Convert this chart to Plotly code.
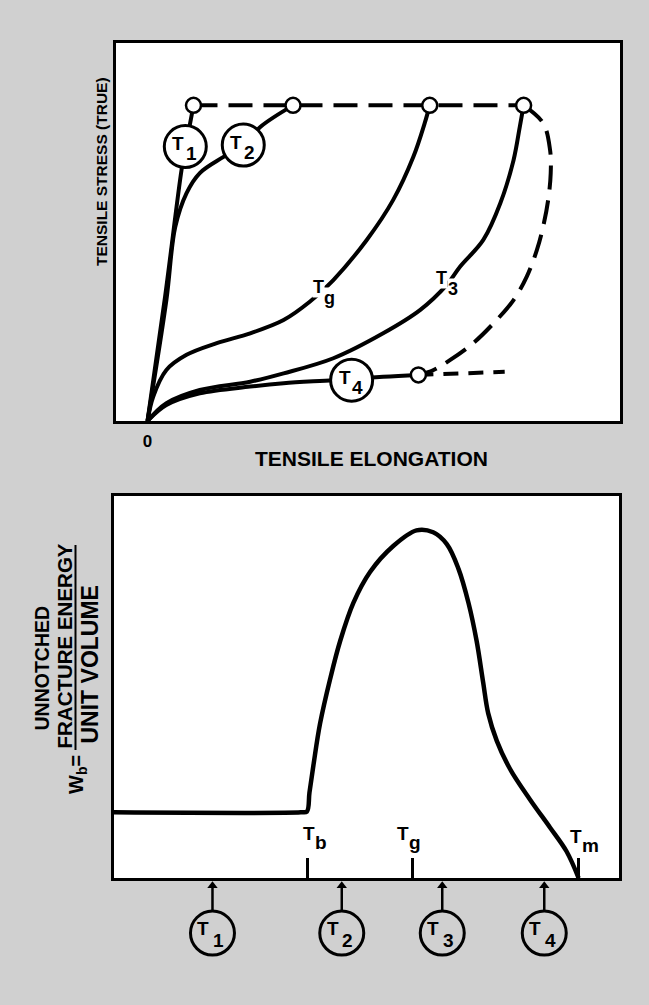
import plotly.graph_objects as go

FONT = "Liberation Sans, Arial, sans-serif"

# ---------------- top panel: true tensile stress vs tensile elongation ----------------
t1_elong = [0.0, 0.28, 0.54, 0.60, 0.73]
t1_stress = [0.0, 3.30, 6.64, 7.20, 8.35]

t2_elong = [0.0, 0.30, 0.44, 0.62, 0.83, 1.20, 1.52, 1.79, 2.31]
t2_stress = [0.0, 3.20, 5.13, 6.03, 6.56, 6.98, 7.30, 7.78, 8.35]

tg_elong = [0.0, 0.09, 0.30, 0.62, 1.10, 1.63, 2.16, 2.58, 2.95, 3.48, 3.90, 4.22, 4.40, 4.48]
tg_stress = [0.0, 0.64, 1.35, 1.75, 2.06, 2.32, 2.67, 3.16, 3.73, 4.79, 5.85, 6.99, 7.88, 8.35]

t3_elong = [0.0, 0.30, 0.83, 1.63, 2.16, 2.95, 3.74, 4.33, 4.75, 4.96, 5.33, 5.60, 5.81, 5.91, 5.97]
t3_stress = [0.0, 0.47, 0.82, 1.04, 1.26, 1.66, 2.32, 2.94, 3.60, 4.08, 4.79, 5.76, 6.90, 7.79, 8.35]

t4_elong = [0.0, 0.30, 0.83, 1.63, 2.16, 2.95, 3.74, 4.30]
t4_stress = [0.0, 0.42, 0.73, 0.91, 1.00, 1.08, 1.17, 1.22]
t4_ext_elong = [4.30, 5.67]
t4_ext_stress = [1.22, 1.30]

# fracture envelope (dashed): flat top and the arc down to the T4 break point
env_top_elong = [0.73, 5.97]
env_top_stress = [8.35, 8.35]
env_arc_elong = [5.97, 6.28, 6.39, 6.40, 6.36, 6.28, 6.18, 6.02, 5.81, 5.49, 5.17, 4.80, 4.54, 4.30]
env_arc_stress = [8.35, 7.88, 7.17, 6.55, 5.85, 5.14, 4.52, 3.82, 3.20, 2.58, 2.06, 1.61, 1.35, 1.22]

# break points (small open circles)
break_elong = [0.73, 2.31, 4.48, 5.97, 4.30]
break_stress = [8.35, 8.35, 8.35, 8.35, 1.22]

# circled curve labels
circ_elong = [0.60, 1.52, 3.24]
circ_stress = [7.26, 7.30, 1.08]
circ_subs = ["1", "2", "4"]

# plain curve labels
curve_lab_elong = [2.79, 4.75]
curve_lab_stress = [3.41, 3.65]
curve_lab_subs = ["g", "3"]

# ---------------- bottom panel: unnotched fracture energy vs temperature ----------------
temp = [0.0, 3.70, 3.82, 3.87, 3.95, 4.08, 4.28, 4.48, 4.74, 5.07, 5.53, 5.99, 6.32, 6.59,
        6.82, 7.02, 7.18, 7.31, 7.41, 7.58, 7.84, 8.24, 8.63, 8.96, 9.20]
wb = [1.72, 1.72, 1.74, 2.23, 2.96, 4.04, 5.21, 6.21, 7.20, 8.01, 8.69, 9.10, 9.05, 8.74,
      8.10, 7.20, 6.21, 5.12, 4.31, 3.59, 2.86, 2.05, 1.33, 0.70, 0.0]

tick_temp = [3.83, 5.91, 9.20]
tick_subs = ["b", "g", "m"]
tick_lab_temp = [3.98, 5.84, 9.27]
tick_lab_y = [1.07, 1.05, 0.97]

arrow_temp = [1.95, 4.51, 6.50, 8.52]
arrow_subs = ["1", "2", "3", "4"]
arrow_circle_y = -1.44
arrow_tail_y = -0.89

BG = "#d0d0d0"
LW = 4

fig = go.Figure()


def line(x, y, xa, ya, dash="solid", width=LW, shape="spline"):
    fig.add_trace(go.Scatter(x=x, y=y, xaxis=xa, yaxis=ya, mode="lines",
                             line=dict(color="black", width=width, dash=dash, shape=shape, smoothing=1.0),
                             hoverinfo="skip", showlegend=False, cliponaxis=False))


# top panel curves
line(env_top_elong, env_top_stress, "x", "y", dash="24px,11px", shape="linear")
line(env_arc_elong, env_arc_stress, "x", "y", dash="24px,11px")
line(t4_ext_elong, t4_ext_stress, "x", "y", dash="15px,10px", shape="linear")
line(t1_elong, t1_stress, "x", "y")
line(t2_elong, t2_stress, "x", "y")
line(tg_elong, tg_stress, "x", "y")
line(t3_elong, t3_stress, "x", "y")
line(t4_elong, t4_stress, "x", "y")

fig.add_trace(go.Scatter(x=break_elong, y=break_stress, xaxis="x", yaxis="y", mode="markers",
                         marker=dict(size=15, color="white", line=dict(color="black", width=2.5)),
                         hoverinfo="skip", showlegend=False, cliponaxis=False))
fig.add_trace(go.Scatter(x=circ_elong, y=circ_stress, xaxis="x", yaxis="y", mode="markers",
                         marker=dict(size=42, color="white", line=dict(color="black", width=3)),
                         hoverinfo="skip", showlegend=False, cliponaxis=False))

# bottom panel curve
line(temp, wb, "x2", "y2", width=4.5)

# strip below the bottom panel (circled temperatures with arrows)
for xv in arrow_temp:
    fig.add_trace(go.Scatter(x=[xv, xv], y=[arrow_tail_y, -0.15], xaxis="x3", yaxis="y3", mode="lines",
                             line=dict(color="black", width=2.5), hoverinfo="skip", showlegend=False,
                             cliponaxis=False))
fig.add_trace(go.Scatter(x=arrow_temp, y=[-0.2] * len(arrow_temp), xaxis="x3", yaxis="y3", mode="markers",
                         marker=dict(symbol="triangle-up", size=9, color="black"),
                         hoverinfo="skip", showlegend=False, cliponaxis=False))
fig.add_trace(go.Scatter(x=arrow_temp, y=[arrow_circle_y] * len(arrow_temp), xaxis="x3", yaxis="y3",
                         mode="markers",
                         marker=dict(size=44, color="rgba(0,0,0,0)", line=dict(color="black", width=3)),
                         hoverinfo="skip", showlegend=False, cliponaxis=False))

ann = []


def t_label(x, y, sub, xref, yref, size=18, bg="rgba(0,0,0,0)", tdx=-6, tdy=4, sdx=6, sdy=-6):
    f = dict(family=FONT, size=size, color="black", weight="bold")
    ann.append(dict(x=x, y=y, xref=xref, yref=yref, text="T", showarrow=False, font=f,
                    xanchor="center", yanchor="middle",
                    xshift=tdx, yshift=tdy, bgcolor=bg, borderpad=0))
    ann.append(dict(x=x, y=y, xref=xref, yref=yref, text=sub, showarrow=False, font=f,
                    xanchor="center", yanchor="middle",
                    xshift=sdx, yshift=sdy, bgcolor=bg, borderpad=0))


for xv, yv, s in zip(circ_elong, circ_stress, circ_subs):
    t_label(xv, yv, s, "x", "y", size=19, tdx=-7, tdy=3, sdx=6, sdy=-7)
for xv, yv, s in zip(curve_lab_elong, curve_lab_stress, curve_lab_subs):
    t_label(xv, yv, s, "x", "y", bg="white", tdx=-5, tdy=5, sdx=6, sdy=-6)
for xv, yv, s in zip(tick_lab_temp, tick_lab_y, tick_subs):
    sdx = 8 if s == "m" else 6
    t_label(xv, yv, s, "x2", "y2", size=19, tdx=-6, tdy=4, sdx=sdx, sdy=-5)
for xv, s in zip(arrow_temp, arrow_subs):
    t_label(xv, arrow_circle_y, s, "x3", "y3", size=19, tdx=-9, tdy=5, sdx=6, sdy=-7)

bold = dict(family=FONT, color="black", weight="bold")


def ptext(px, py, text, size, angle=0):
    ann.append(dict(x=px / 649, y=1 - py / 1005, xref="paper", yref="paper", text=text,
                    textangle=angle, showarrow=False, xanchor="center", yanchor="middle",
                    font=dict(**bold, size=size)))


ptext(371, 459, "TENSILE ELONGATION", 21)
ptext(101, 172, "TENSILE STRESS (TRUE)", 15.5, -90)
ptext(41.5, 668, "UNNOTCHED", 19.5, -90)
ptext(64, 646.5, "FRACTURE ENERGY", 20.5, -90)
ptext(89, 664.5, "UNIT VOLUME", 23, -90)
ptext(77, 775, "W<sub>b</sub>=", 20, -90)

shapes = [
    dict(type="rect", xref="x domain", yref="y domain", x0=0, x1=1, y0=0, y1=1,
         fillcolor="white", line=dict(width=0), layer="below"),
    dict(type="rect", xref="x2 domain", yref="y2 domain", x0=0, x1=1, y0=0, y1=1,
         fillcolor="white", line=dict(width=0), layer="below"),
    dict(type="line", xref="paper", yref="paper", x0=75.5 / 649, x1=75.5 / 649,
         y0=1 - 545 / 1005, y1=1 - 750 / 1005, line=dict(color="black", width=2)),
]

ax_common = dict(showgrid=False, zeroline=False, showline=True, linecolor="black", linewidth=3,
                 mirror=True, fixedrange=True)

fig.update_layout(
    width=649, height=1005, autosize=False,
    margin=dict(l=0, r=0, t=0, b=0),
    paper_bgcolor=BG, plot_bgcolor=BG,
    showlegend=False,
    xaxis=dict(**ax_common, domain=[116 / 649, 620 / 649], range=[-0.5, 7.5],
               tickvals=[0], ticktext=["0"], ticks="", ticklabelstandoff=3,
               tickfont=dict(family=FONT, size=17, color="black", weight="bold")),
    yaxis=dict(**ax_common, domain=[1 - 421 / 1005, 1 - 43 / 1005], range=[0, 10],
               showticklabels=False, ticks=""),
    xaxis2=dict(**ax_common, domain=[114 / 649, 619 / 649], range=[0, 10], anchor="y2",
                tickvals=tick_temp, ticks="inside", ticklen=20, tickwidth=2.5, tickcolor="black",
                showticklabels=False),
    yaxis2=dict(**ax_common, domain=[1 - 878 / 1005, 1 - 496 / 1005], range=[0, 10], anchor="x2",
                showticklabels=False, ticks=""),
    xaxis3=dict(domain=[114 / 649, 619 / 649], range=[0, 10], anchor="y3", visible=False,
                fixedrange=True),
    yaxis3=dict(domain=[0, 1 - 878 / 1005], range=[-127 / 38.2, 0], anchor="x3", visible=False,
                fixedrange=True),
    annotations=ann,
    shapes=shapes,
)

fig.write_html("out.html", config={"displayModeBar": False},
               post_script="document.body.style.margin='0';document.body.style.overflow='hidden';")
